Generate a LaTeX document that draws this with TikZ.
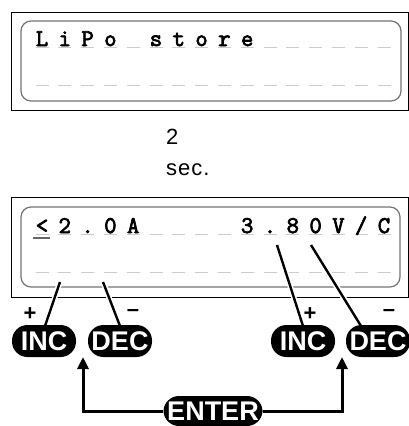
\documentclass[tikz,border=0pt]{standalone}
\usepackage{fontspec}
\setmainfont{Liberation Sans}
\newfontfamily\lcdfont[FakeBold=3]{Latin Modern Mono}
\usetikzlibrary{arrows.meta}
\usetikzlibrary{positioning}

\tikzset{
  frame/.style={draw=black,line width=0.8pt},
  window/.style={draw=black!55,line width=1.2pt,rounded corners=10pt},
  cell/.style={anchor=base,inner sep=0pt,font=\lcdfont\fontsize{24}{24}\selectfont},
  blank/.style={draw=black!20,line width=1pt},
  lead/.style={line width=2.4pt,preaction={draw=white,line width=5.5pt}},
  key/.style={fill=black,text=white,rounded corners=15.5pt,minimum height=32pt,minimum width=64pt,inner sep=0pt,font=\bfseries\fontsize{27}{27}\selectfont},
  sign/.style={inner sep=0pt,font=\bfseries\fontsize{22}{22}\selectfont},
  enterline/.style={line width=3pt,-{Triangle[width=11pt,length=12pt]}}
}

\begin{document}
\begin{tikzpicture}[x=1pt,y=-1pt]
\useasboundingbox (0,0) rectangle (409,426);

% first screen
\draw[frame] (11,12) rectangle (408,110);
\draw[window] (21,21) rectangle (401,101);
\foreach \i in {0,...,15}{
  \draw[blank] (35.5+\i*22.8,47) -- (48.5+\i*22.8,47);
  \draw[blank] (35.5+\i*22.8,85) -- (48.5+\i*22.8,85);
}
\foreach \i/\c in {0/L,1/i,2/P,3/o,5/s,6/t,7/o,8/r,9/e}
  \node at (42+\i*22.8,46)[cell](top\i){\c};

% wait
\node at (166,144)[anchor=base west,inner sep=0pt,font=\fontsize{22}{22}\selectfont](wait){2};
\node at (166,175)[anchor=base west,inner sep=0pt,font=\fontsize{22}{22}\selectfont](sec){s\kern1pt e\kern1pt c\kern1pt .};

% second screen
\draw[frame] (11,197) rectangle (408,297);
\draw[window] (21,207) rectangle (400,287);
\foreach \i in {0,...,15}{
  \draw[blank] (35.5+\i*22.8,234) -- (48.5+\i*22.8,234);
  \draw[blank] (35.5+\i*22.8,272) -- (48.5+\i*22.8,272);
}
\draw[draw=black!60,line width=1.3pt] (33,238) -- (50,238);
\foreach \i/\c in {0/<,1/2,2/.,3/0,4/A,9/3,10/.,11/8,12/0,13/V,14/{/},15/C}
  \node at (42+\i*22.8,233)[cell](bot\i){\c};

% pointers
\coordinate (pa) at (60,282);
\coordinate (pb) at (103,282);
\coordinate (pc) at (277,245);
\coordinate (pd) at (311,245);
\coordinate (qa) at (45,326);
\coordinate (qb) at (120,326);
\coordinate (qc) at (303,326);
\coordinate (qd) at (361,326);
\draw[lead] (pa) -- (qa);
\draw[lead] (pb) -- (qb);
\draw[lead] (pc) -- (qc);
\draw[lead] (pd) -- (qd);

% keys
\node at (44,341)[key](incl){INC};
\node at (120,341)[key](decl){DEC};
\node at (303,341)[key](incr){INC};
\node at (378,341)[key](decr){DEC};
\node at (30,314)[sign](pl){+};
\node at (133,313)[sign](ml){\textendash};
\node at (310,314)[sign](pr){+};
\node at (389,313)[sign](mr){\textendash};

\node at (213,411)[key,minimum width=99pt,minimum height=30pt](enter){ENTER};
\coordinate (tl) at (83,357);
\coordinate (tr) at (342,357);
\draw[enterline] (enter.west) -| (tl);
\draw[enterline] (enter.east) -| (tr);
\end{tikzpicture}
\end{document}
